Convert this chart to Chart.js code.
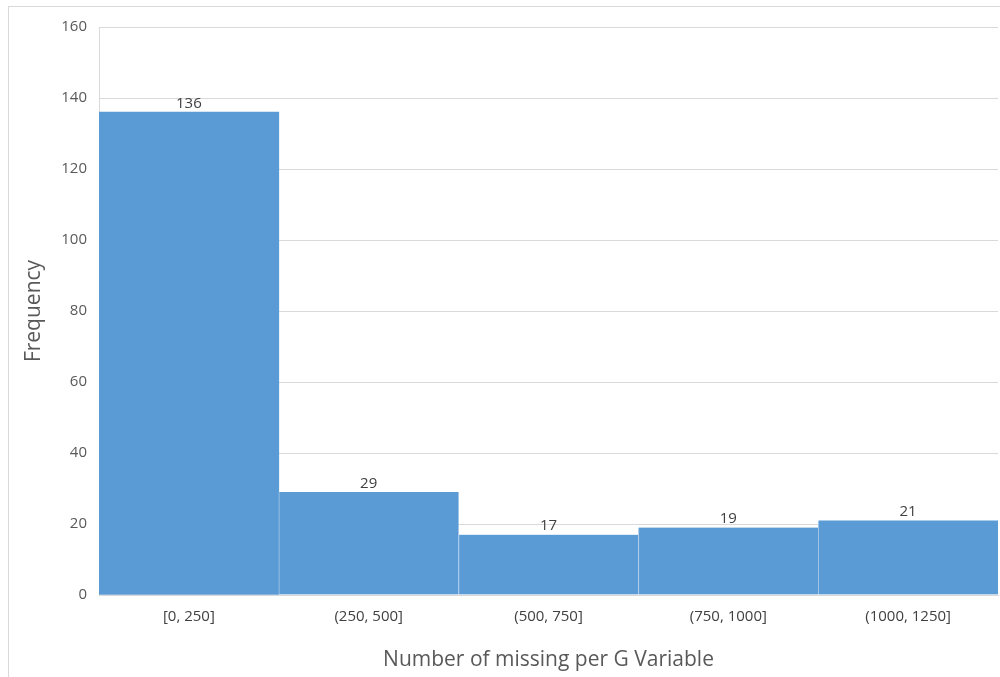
<!DOCTYPE html>
<html>
<head>
<meta charset="utf-8">
<script src="https://cdn.jsdelivr.net/npm/chart.js@4/dist/chart.umd.min.js"></script>
<style>
    body { margin: 0; background: #fff; }
    #wrap { position: relative; width: 1000px; height: 677px; }
</style>
</head>
<body>
<div id="wrap"><canvas id="hist_chart" width="1000" height="677"></canvas></div>
<script>
// histogram bins and counts
const bins = ["[0, 250]", "(250, 500]", "(500, 750]", "(750, 1000]", "(1000, 1250]"];
const counts = [136, 29, 17, 19, 21];
const yTicks = [0, 20, 40, 60, 80, 100, 120, 140, 160];

const fontName = "'Open Sans', 'Liberation Sans', sans-serif";

// border round the whole chart, like the excel chart box
const chartBox = {
    id: "chartBox",
    beforeDraw: (chart) => {
        const ctx = chart.ctx;
        ctx.save();
        ctx.strokeStyle = "#d9d9d9";
        ctx.lineWidth = 1;
        ctx.strokeRect(8.5, 6.5, 1100, 800);
        ctx.restore();
    }
};

// value labels above bars
const valueLabels = {
    id: "valueLabels",
    afterDatasetsDraw: (chart) => {
        const ctx = chart.ctx;
        const meta = chart.getDatasetMeta(0);
        ctx.save();
        ctx.font = "15px " + fontName;
        ctx.fillStyle = "#404040";
        ctx.textAlign = "center";
        ctx.textBaseline = "bottom";
        meta.data.forEach((bar, i) => {
            ctx.fillText(counts[i], bar.x, bar.y - 1);
        });
        ctx.restore();
    }
};

new Chart("hist_chart", {
    type: "bar",
    data: {
        labels: bins,
        datasets: [{
            data: counts,
            backgroundColor: "#5b9bd5",
            borderColor: "#a8c9ea",
            borderWidth: (c) => c.dataIndex > 0 ? { left: 1, right: 0, top: 0, bottom: 0 } : 0,
            borderSkipped: false,
            categoryPercentage: 1.0,
            barPercentage: 1.0
        }]
    },
    options: {
        responsive: false,
        animation: false,
        layout: { padding: { top: 27, right: 2, left: 0, bottom: 0 } },
        plugins: {
            legend: { display: false },
            tooltip: { enabled: false }
        },
        scales: {
            x: {
                grid: { display: false, drawTicks: false },
                border: { color: "#d9d9d9" },
                ticks: {
                    color: "#404040",
                    font: { family: fontName, size: 15 },
                    padding: 13
                },
                title: {
                    display: true,
                    text: "Number of missing per G Variable",
                    color: "#595959",
                    font: { family: fontName, size: 21 },
                    padding: { top: 10 }
                },
                afterFit: (s) => { s.height = 82; }
            },
            y: {
                min: 0,
                max: 160,
                afterBuildTicks: (s) => { s.ticks = yTicks.map(v => ({ value: v })); },
                grid: { color: "#d9d9d9", drawTicks: false },
                border: { color: "#d9d9d9" },
                ticks: {
                    color: "#595959",
                    font: { family: fontName, size: 15 },
                    padding: 12
                },
                title: {
                    display: true,
                    text: "Frequency",
                    color: "#595959",
                    font: { family: fontName, size: 21 },
                    padding: { top: 21, bottom: 0 }
                },
                afterFit: (s) => { s.width = 99; }
            }
        }
    },
    plugins: [chartBox, valueLabels]
});
</script>
</body>
</html>
